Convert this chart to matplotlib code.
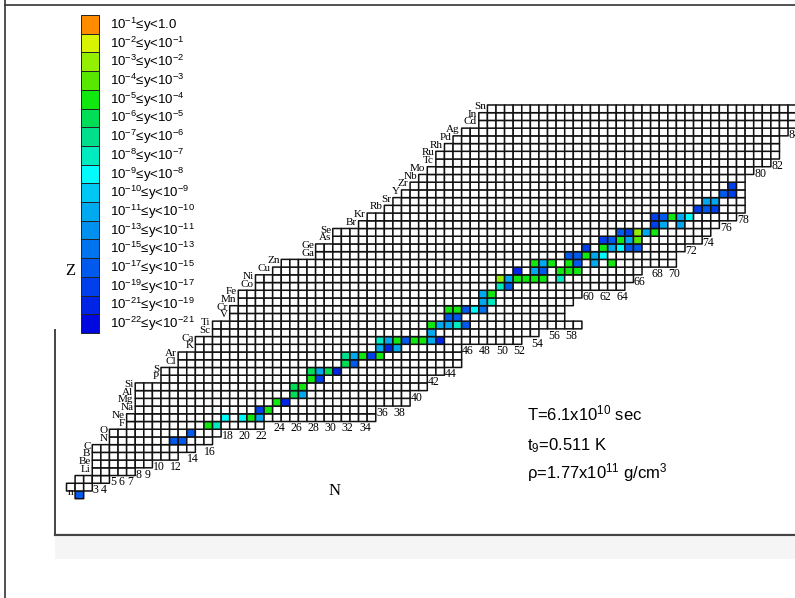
import numpy as np
import matplotlib.pyplot as plt
from matplotlib.colors import ListedColormap, BoundaryNorm
from matplotlib.patches import Rectangle

plt.rcParams['mathtext.fontset'] = 'custom'
plt.rcParams['mathtext.rm'] = 'Liberation Sans'
plt.rcParams['mathtext.it'] = 'Liberation Sans'
plt.rcParams['mathtext.default'] = 'regular'

# one row per proton number Z = 0..50 (H and He carry no label)
elements = ['n', '', '', 'Li', 'Be', 'B', 'C', 'N', 'O', 'F', 'Ne', 'Na', 'Mg',
            'Al', 'Si', 'P', 'S', 'Cl', 'Ar', 'K', 'Ca', 'Sc', 'Ti', 'V', 'Cr',
            'Mn', 'Fe', 'Co', 'Ni', 'Cu', 'Zn', 'Ga', 'Ge', 'As', 'Se', 'Br',
            'Kr', 'Rb', 'Sr', 'Y', 'Zr', 'Nb', 'Mo', 'Tc', 'Ru', 'Rh', 'Pd',
            'Ag', 'Cd', 'In', 'Sn']
n_first = [1, 0, 1, 3, 3, 3, 3, 5, 5, 7, 7, 8, 8, 8, 8, 11, 11, 13, 13, 15,
           15, 17, 17, 19, 19, 20, 20, 22, 22, 24, 25, 29, 29, 31, 31, 34, 35,
           37, 38, 39, 40, 41, 42, 43, 43, 44, 45, 46, 48, 48, 49]
n_last = [1, 2, 4, 7, 9, 12, 14, 16, 17, 22, 35, 35, 39, 39, 41, 41, 43, 45,
          45, 45, 52, 54, 59, 57, 57, 58, 59, 64, 65, 66, 70, 70, 71, 73, 74,
          75, 77, 78, 78, 78, 78, 78, 79, 81, 82, 82, 82, 83, 84, 91, 91]

# coloured nuclei: neutron number, proton number, abundance class (1 = top of legend)
cell_n = [1, 12, 13, 14, 16, 17, 18, 20, 21, 22, 22, 23, 24, 25, 26, 27, 26, 27,
          28, 29, 28, 29, 30, 31, 32, 33, 32, 33, 34, 35, 36, 36, 37, 38,
          36, 37, 38, 39, 40, 41, 42, 43, 42, 42, 43, 44, 45, 46, 44, 45,
          44, 45, 46, 47, 48, 48, 49, 48, 49, 50, 51,
          50, 51, 52, 53, 54, 55, 57, 52, 54, 55, 57, 58, 59, 54, 55, 56,
          58, 59, 60, 61, 62, 58, 59, 61, 63, 60, 62, 63, 64, 65, 66,
          62, 63, 64, 65, 66, 64, 65, 66, 67, 68, 68, 69, 71,
          68, 69, 70, 71, 72, 73, 74, 75, 74, 75, 76, 77, 77]
cell_z = [0, 7, 7, 8, 9, 9, 10, 10, 10, 10, 11, 11, 12, 12, 13, 13, 14, 14,
          15, 15, 16, 16, 16, 16, 17, 17, 18, 18, 18, 18, 18, 19, 19, 19,
          20, 20, 20, 20, 20, 20, 20, 20, 21, 22, 22, 22, 22, 22, 23, 23,
          24, 24, 24, 24, 24, 25, 25, 26, 26, 27, 27,
          28, 28, 28, 28, 28, 28, 28, 29, 29, 29, 29, 29, 29, 30, 30, 30,
          31, 31, 31, 31, 31, 30, 30, 30, 30, 32, 32, 32, 32, 32, 32,
          33, 33, 33, 33, 33, 34, 34, 34, 34, 34, 35, 35, 35,
          36, 36, 36, 36, 36, 37, 37, 37, 38, 38, 39, 39, 40]
cell_cls = [14, 14, 14, 14, 5, 8, 9, 9, 5, 11, 15, 5, 5, 16, 6, 11, 6, 5,
            5, 15, 6, 11, 6, 16, 6, 14, 7, 11, 5, 15, 5, 11, 16, 11,
            8, 11, 5, 14, 5, 5, 11, 16, 11, 5, 11, 11, 8, 14, 14, 14,
            5, 5, 14, 9, 13, 11, 8, 11, 5, 8, 14,
            3, 11, 5, 5, 5, 5, 8, 16, 11, 14, 5, 5, 5, 5, 11, 5,
            14, 14, 5, 11, 9, 5, 14, 11, 5, 15, 5, 11, 9, 14, 14,
            15, 14, 5, 11, 4, 14, 15, 3, 11, 5, 15, 11, 11,
            15, 14, 5, 11, 9, 15, 14, 15, 11, 11, 14, 15, 15]

legend_labels = ['10$^{-1}$≤y<1.0', '10$^{-2}$≤y<10$^{-1}$', '10$^{-3}$≤y<10$^{-2}$',
                 '10$^{-4}$≤y<10$^{-3}$', '10$^{-5}$≤y<10$^{-4}$', '10$^{-6}$≤y<10$^{-5}$',
                 '10$^{-7}$≤y<10$^{-6}$', '10$^{-8}$≤y<10$^{-7}$', '10$^{-9}$≤y<10$^{-8}$',
                 '10$^{-10}$≤y<10$^{-9}$', '10$^{-11}$≤y<10$^{-10}$', '10$^{-13}$≤y<10$^{-11}$',
                 '10$^{-15}$≤y<10$^{-13}$', '10$^{-17}$≤y<10$^{-15}$', '10$^{-19}$≤y<10$^{-17}$',
                 '10$^{-21}$≤y<10$^{-19}$', '10$^{-22}$≤y<10$^{-21}$']
legend_colors = ['#ff8c00', '#d8f400', '#94f000', '#58e800', '#10e810', '#00de58',
                 '#00e08c', '#00ecc0', '#00fcfc', '#00c8f4', '#00aaf0', '#0090f0',
                 '#0074ee', '#005aee', '#0040ec', '#0024e6', '#0008e0']

n_ticks = [3, 4, 5, 6, 7, 8, 9, 10, 12, 14, 16, 18, 20, 22, 24, 26, 28, 30, 32,
           34, 36, 38, 40, 42, 44, 46, 48, 50, 52, 54, 56, 58, 60, 62, 64, 66,
           68, 70, 72, 74, 76, 78, 80, 82, 84]

# pixel geometry of the chart
X0, DX = 66.5, 8.59
Y0, DY = 498.7, 7.72
W, H = 795, 598

nz = len(elements)
ncol = 92
val = np.full((nz, ncol), np.nan)
for z in range(nz):
    val[z, n_first[z]:n_last[z] + 1] = 0
for n, z, c in zip(cell_n, cell_z, cell_cls):
    val[z, n] = c
val = np.ma.masked_invalid(val)

cmap = ListedColormap(['white'] + legend_colors)
norm = BoundaryNorm(np.arange(-0.5, len(legend_colors) + 1), cmap.N)

fig = plt.figure(figsize=(W / 100, H / 100), dpi=100)
ax = fig.add_axes([0, 0, 1, 1])
ax.pcolor(np.arange(ncol + 1), np.arange(nz + 1), val, cmap=cmap, norm=norm,
          edgecolors='#111111', linewidth=1.1)
ax.set_xlim(-X0 / DX, (W - X0) / DX)
ax.set_ylim((Y0 - H) / DY, Y0 / DY)
ax.axis('off')

serif = 'Liberation Serif'
for z, sym in enumerate(elements):
    if sym:
        ax.text(n_first[z] - 0.2, z + 0.8, sym, ha='right', va='center',
                fontsize=8, family=serif)
for n in n_ticks:
    zlow = min(z for z in range(nz) if n_first[z] <= n <= n_last[z])
    ax.text(n + 0.05, zlow - 0.12, str(n), ha='left', va='top',
            fontsize=8.5, family=serif)

# overlay in pixel coordinates for frame, legend and notes
ov = fig.add_axes([0, 0, 1, 1])
ov.set_xlim(0, W)
ov.set_ylim(H, 0)
ov.axis('off')
ov.patch.set_alpha(0)

ov.plot([5, 5], [0, H], color='#333333', lw=1.2)
ov.plot([5, W], [5, 5], color='#333333', lw=1.2)
ov.plot([55, 55], [330, 535], color='#444444', lw=1.4)
ov.plot([55, W], [535, 535], color='#444444', lw=1.6)
ov.add_patch(Rectangle((55, 537), W - 55, 22, fc='#f5f5f5', ec='none'))

bh = 18.7
for i, (lab, col) in enumerate(zip(legend_labels, legend_colors)):
    y = 15 + i * bh
    ov.add_patch(Rectangle((81, y), 17.5, bh, fc=col, ec='#222222', lw=0.7))
    ov.text(110, y + bh / 2 + 0.5, lab, va='center', ha='left', fontsize=9.5,
            family='Liberation Sans')

ov.text(70, 271, 'Z', ha='center', va='center', fontsize=12, family=serif)
ov.text(335, 491, 'N', ha='center', va='center', fontsize=12, family=serif)

sans = 'Liberation Sans'
ov.text(527, 420, 'T=6.1x10$^{10}$ sec', fontsize=12, family=sans, va='baseline')
ov.text(527, 450, 't$_9$=0.511 K', fontsize=12, family=sans, va='baseline')
ov.text(527, 478, 'ρ=1.77x10$^{11}$ g/cm$^3$', fontsize=12, family=sans, va='baseline')

fig.savefig('out.png', dpi=100)
